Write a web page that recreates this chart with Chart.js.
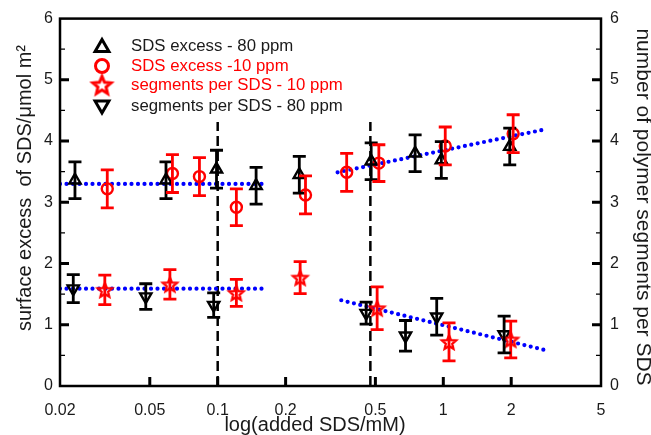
<!DOCTYPE html>
<html lang="en">
<head>
<meta charset="UTF-8">
<title>Surface excess of SDS</title>
<script src="https://cdn.jsdelivr.net/npm/chart.js"></script>
<style>
  body { margin: 0; background: #fff; }
  #wrap { width: 651px; height: 435px; }
</style>
</head>
<body>
<div id="wrap"><canvas id="sdsChart" width="651" height="435"></canvas></div>
<script>
const xTicks = [0.02, 0.05, 0.1, 0.2, 0.5, 1, 2, 5];

// SDS excess - 80 ppm (left axis)
const excess80X   = [0.0233, 0.059, 0.0988, 0.148, 0.23, 0.479, 0.75, 0.98, 1.97];
const excess80Y   = [3.36, 3.36, 3.54, 3.27, 3.45, 3.67, 3.80, 3.69, 3.91];
const excess80Err = [0.30, 0.30, 0.31, 0.30, 0.30, 0.30, 0.30, 0.30, 0.30];

// SDS excess - 10 ppm (left axis)
const excess10X   = [0.0324, 0.063, 0.083, 0.121, 0.245, 0.373, 0.518, 1.02, 2.04];
const excess10Y   = [3.22, 3.47, 3.42, 2.92, 3.12, 3.49, 3.64, 3.92, 4.12];
const excess10Err = [0.31, 0.31, 0.31, 0.30, 0.31, 0.31, 0.30, 0.31, 0.31];

// segments per SDS - 10 ppm (right axis)
const seg10X   = [0.0316, 0.0614, 0.121, 0.232, 0.509, 1.06, 1.99];
const seg10Y   = [1.57, 1.66, 1.52, 1.77, 1.27, 0.72, 0.76];
const seg10Err = [0.24, 0.24, 0.22, 0.26, 0.35, 0.31, 0.30];

// segments per SDS - 80 ppm (right axis)
const seg80X   = [0.0229, 0.048, 0.096, 0.455, 0.68, 0.935, 1.86];
const seg80Y   = [1.59, 1.46, 1.32, 1.19, 0.82, 1.13, 0.84];
const seg80Err = [0.23, 0.21, 0.20, 0.18, 0.25, 0.30, 0.30];

// dotted guide lines
const fitExcessLowX  = [0.02, 0.166];
const fitExcessLowY  = [3.30, 3.30];
const fitExcessHighX = [0.34, 2.82];
const fitExcessHighY = [3.49, 4.19];
const fitSegLowX     = [0.02, 0.166];
const fitSegLowY     = [1.59, 1.59];
const fitSegHighX    = [0.353, 2.8];
const fitSegHighY    = [1.40, 0.59];

// dashed markers at the two transitions
const transitionX = [0.1, 0.475];
const transitionTop = 4.31;

const RED = '#ff0000';
const BLACK = '#000000';
const BLUE = '#0000ff';
const TEXT = '#1a1a1a';
const FAMILY = '"Liberation Sans", Arial, sans-serif';

const legendRows = [
  { text: 'SDS excess - 80 ppm', color: BLACK, style: 'triangle', rotation: 0 },
  { text: 'SDS excess -10 ppm', color: RED, style: 'circle', rotation: 0 },
  { text: 'segments per SDS - 10 ppm', color: RED, style: 'star', rotation: 0 },
  { text: 'segments per SDS - 80 ppm', color: BLACK, style: 'triangle', rotation: 180 }
];

function pts(xs, ys) {
  return xs.map((x, i) => ({ x: x, y: ys[i] }));
}

function makeStar(color, outer, lw) {
  const size = Math.ceil(outer * 2 + lw * 2 + 2);
  const c = document.createElement('canvas');
  c.width = size; c.height = size;
  const g = c.getContext('2d');
  g.strokeStyle = color;
  g.lineWidth = lw;
  g.lineJoin = 'miter';
  g.beginPath();
  for (let k = 0; k < 10; k++) {
    const r = k % 2 === 0 ? outer : outer * 0.45;
    const a = -Math.PI / 2 + k * Math.PI / 5;
    const px = size / 2 + r * Math.cos(a), py = size / 2 + 0.8 + r * Math.sin(a);
    if (k === 0) g.moveTo(px, py); else g.lineTo(px, py);
  }
  g.closePath();
  g.stroke();
  return c;
}

const starSmall = makeStar(RED, 7.5, 2.3);
const starLegend = makeStar(RED, 9.5, 3);

function markerSet(label, xs, ys, errs, color, style, rotation, axis) {
  return {
    label: label,
    data: pts(xs, ys),
    errors: errs,
    yAxisID: axis,
    showLine: false,
    pointStyle: style,
    rotation: rotation,
    pointRadius: style === 'circle' ? 5.5 : 6.5,
    pointBorderWidth: 2.4,
    pointBorderColor: color,
    pointBackgroundColor: 'rgba(0,0,0,0)',
    borderColor: color,
    order: 1
  };
}

function guideSet(xs, ys, axis) {
  return {
    data: pts(xs, ys),
    yAxisID: axis,
    showLine: true,
    borderColor: BLUE,
    borderWidth: 4.2,
    borderDash: [0, 6.5],
    borderCapStyle: 'round',
    pointRadius: 0,
    fill: false,
    order: 2
  };
}

function dashSet(x) {
  return {
    data: pts([x, x], [0, transitionTop]),
    yAxisID: 'y',
    showLine: true,
    borderColor: BLACK,
    borderWidth: 2.5,
    borderDash: [10, 5],
    pointRadius: 0,
    fill: false,
    order: 3
  };
}

// error bars for every dataset that carries an errors array
const errorBars = {
  id: 'errorBars',
  afterDatasetsDraw(chart) {
    const ctx = chart.ctx;
    chart.data.datasets.forEach((ds, i) => {
      if (!ds.errors) return;
      const meta = chart.getDatasetMeta(i);
      const ys = chart.scales[ds.yAxisID];
      ctx.save();
      ctx.strokeStyle = ds.borderColor;
      ctx.lineWidth = 2.8;
      meta.data.forEach((pt, j) => {
        const v = ds.data[j].y, e = ds.errors[j];
        const top = ys.getPixelForValue(v + e);
        const bot = ys.getPixelForValue(v - e);
        ctx.beginPath();
        ctx.moveTo(pt.x, top); ctx.lineTo(pt.x, bot);
        ctx.moveTo(pt.x - 6.5, top); ctx.lineTo(pt.x + 6.5, top);
        ctx.moveTo(pt.x - 6.5, bot); ctx.lineTo(pt.x + 6.5, bot);
        ctx.stroke();
      });
      ctx.restore();
    });
  }
};

function drawText(ctx, text, x, y, angle, size) {
  ctx.save();
  ctx.translate(x, y);
  ctx.rotate(angle);
  ctx.font = size + 'px ' + FAMILY;
  ctx.fillStyle = TEXT;
  ctx.textAlign = 'center';
  ctx.textBaseline = 'middle';
  ctx.fillText(text, 0, 0);
  ctx.restore();
}

// closed frame with inward ticks, axis titles and the legend block
const frameAndLegend = {
  id: 'frameAndLegend',
  afterDraw(chart) {
    const ctx = chart.ctx;
    const a = chart.chartArea;
    const sy = chart.scales.y, sx = chart.scales.x;
    ctx.save();
    ctx.strokeStyle = BLACK;
    ctx.lineWidth = 2.5;
    ctx.strokeRect(a.left, a.top, a.right - a.left, a.bottom - a.top);

    for (let v = 0.5; v < 6; v += 0.5) {
      const y = sy.getPixelForValue(v);
      const major = Number.isInteger(v);
      ctx.lineWidth = major ? 3 : 1.2;
      const len = major ? 9 : 5;
      ctx.beginPath();
      ctx.moveTo(a.left, y); ctx.lineTo(a.left + len, y);
      ctx.moveTo(a.right, y); ctx.lineTo(a.right - len, y);
      ctx.stroke();
    }
    ctx.lineWidth = 3;
    xTicks.slice(1, -1).forEach(v => {
      const x = sx.getPixelForValue(v);
      ctx.beginPath();
      ctx.moveTo(x, a.bottom); ctx.lineTo(x, a.bottom - 9);
      ctx.stroke();
    });

    // axis titles
    drawText(ctx, 'surface excess  of SDS/\u03bcmol m\u00b2', 25, 188, -Math.PI / 2, 20);
    drawText(ctx, 'number of polymer segments per SDS', 643, 207, Math.PI / 2, 21);
    drawText(ctx, 'log(added SDS/mM)', 315, 425, 0, 20);

    // legend
    ctx.font = '16.8px ' + FAMILY;
    ctx.textBaseline = 'middle';
    ctx.textAlign = 'left';
    const rowY = [46, 66, 85, 106];
    legendRows.forEach((row, k) => {
      const cx = 102, cy = rowY[k];
      ctx.strokeStyle = row.color;
      ctx.fillStyle = 'rgba(0,0,0,0)';
      ctx.lineWidth = 3;
      if (row.style === 'star') {
        ctx.drawImage(starLegend, cx - starLegend.width / 2, cy - starLegend.height / 2);
      } else {
        Chart.helpers.drawPoint(ctx, {
          pointStyle: row.style, rotation: row.rotation,
          radius: row.style === 'circle' ? 6.5 : 8, borderWidth: 3
        }, cx, cy + (row.style === 'triangle' ? (row.rotation ? -1 : 1.5) : 0));
      }
      ctx.fillStyle = row.color === BLACK ? TEXT : row.color;
      ctx.fillText(row.text, 131, cy);
    });
    ctx.restore();
  }
};

const tickFont = { family: FAMILY, size: 16 };

new Chart(document.getElementById('sdsChart'), {
  type: 'scatter',
  data: {
    datasets: [
      markerSet('SDS excess - 80 ppm', excess80X, excess80Y, excess80Err, BLACK, 'triangle', 0, 'y'),
      markerSet('SDS excess -10 ppm', excess10X, excess10Y, excess10Err, RED, 'circle', 0, 'y'),
      markerSet('segments per SDS - 10 ppm', seg10X, seg10Y, seg10Err, RED, starSmall, 0, 'y2'),
      markerSet('segments per SDS - 80 ppm', seg80X, seg80Y, seg80Err, BLACK, 'triangle', 180, 'y2'),
      guideSet(fitExcessLowX, fitExcessLowY, 'y'),
      guideSet(fitExcessHighX, fitExcessHighY, 'y'),
      guideSet(fitSegLowX, fitSegLowY, 'y2'),
      guideSet(fitSegHighX, fitSegHighY, 'y2'),
      dashSet(transitionX[0]),
      dashSet(transitionX[1])
    ]
  },
  options: {
    responsive: false,
    animation: false,
    devicePixelRatio: 1,
    layout: { padding: { top: 18, left: 0, right: 0, bottom: 0 } },
    plugins: { legend: { display: false }, tooltip: { enabled: false } },
    scales: {
      x: {
        type: 'logarithmic',
        min: 0.02,
        max: 5,
        afterBuildTicks(scale) { scale.ticks = xTicks.map(v => ({ value: v })); },
        afterFit(scale) { scale.height = 49; },
        grid: { display: false, drawTicks: false },
        border: { display: false },
        ticks: {
          autoSkip: false, maxRotation: 0, padding: 15, color: TEXT, font: tickFont,
          callback: v => String(v)
        }
      },
      y: {
        position: 'left',
        min: 0, max: 6,
        afterFit(scale) { scale.width = 60; },
        grid: { display: false, drawTicks: false },
        border: { display: false },
        ticks: { stepSize: 1, padding: 7, color: TEXT, font: tickFont }
      },
      y2: {
        position: 'right',
        min: 0, max: 6,
        afterFit(scale) { scale.width = 50; },
        grid: { display: false, drawTicks: false },
        border: { display: false },
        ticks: { stepSize: 1, padding: 9, color: TEXT, font: tickFont }
      }
    }
  },
  plugins: [errorBars, frameAndLegend]
});
</script>
</body>
</html>
